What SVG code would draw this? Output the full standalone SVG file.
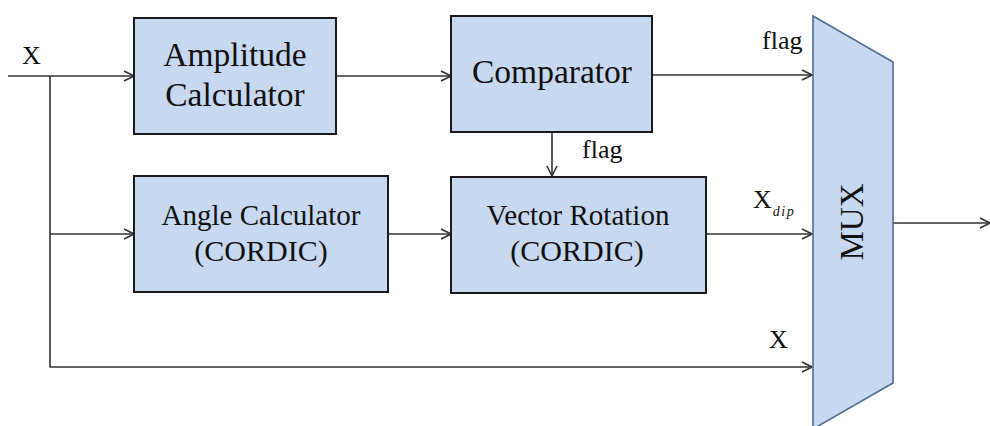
<svg xmlns="http://www.w3.org/2000/svg" width="990" height="426" viewBox="0 0 990 426" font-family="'Liberation Serif', 'Times New Roman', serif">
  <style>
    .box { fill: #c6d9f1; stroke: #1a1a1a; stroke-width: 2; }
    .mux { fill: #c6d9f1; stroke: #4f6d94; stroke-width: 1.6; }
    .wire { fill: none; stroke: #333333; stroke-width: 1.6; }
    text { font-family: 'Liberation Serif', 'Times New Roman', serif; fill: #111111; }
    .lbl { text-anchor: middle; }
    .big { font-size: 33.5px; }
    .mid { font-size: 29px; }
    .par { font-size: 30px; }
    .sig { font-size: 26px; }
  </style>
  <defs>
    <marker id="arrow" viewBox="0 0 12 12" refX="11" refY="6" markerWidth="12" markerHeight="12" markerUnits="userSpaceOnUse" orient="auto">
      <path d="M1,1 L11,6 L1,11" fill="none" stroke="#333333" stroke-width="1.6"/>
    </marker>
  </defs>

  <!-- connectors -->
  <g id="connectors">
    <line class="wire" x1="8" y1="76" x2="134" y2="76" marker-end="url(#arrow)"/>
    <polyline class="wire" points="50,76 50,367 812,367" marker-end="url(#arrow)"/>
    <line class="wire" x1="50" y1="234" x2="134" y2="234" marker-end="url(#arrow)"/>
    <line class="wire" x1="336" y1="76" x2="451" y2="76" marker-end="url(#arrow)"/>
    <line class="wire" x1="652" y1="75" x2="812" y2="75" marker-end="url(#arrow)"/>
    <line class="wire" x1="552" y1="132" x2="552" y2="176" marker-end="url(#arrow)"/>
    <line class="wire" x1="388" y1="234" x2="451" y2="234" marker-end="url(#arrow)"/>
    <line class="wire" x1="706" y1="234" x2="812" y2="234" marker-end="url(#arrow)"/>
    <line class="wire" x1="893" y1="223" x2="990" y2="223" marker-end="url(#arrow)"/>
  </g>

  <!-- signal labels -->
  <g id="signal-labels">
    <text class="sig" x="22" y="64">X</text>
    <text class="sig" x="762" y="49">flag</text>
    <text class="sig" x="582" y="158">flag</text>
    <text class="sig" x="753" y="208">X<tspan font-size="14" font-style="italic" letter-spacing="1.5" dx="1" dy="8">dip</tspan></text>
    <text class="sig" x="769" y="348">X</text>
  </g>

  <g id="amplitude-calculator">
    <rect class="box" x="134" y="18" width="202" height="116"/>
    <text class="lbl big" x="235" y="66">Amplitude</text>
    <text class="lbl big" x="235" y="106">Calculator</text>
  </g>

  <g id="comparator">
    <rect class="box" x="451" y="16" width="201" height="116"/>
    <text class="lbl big" x="552" y="83">Comparator</text>
  </g>

  <g id="angle-calculator">
    <rect class="box" x="134" y="176" width="254" height="116"/>
    <text class="lbl mid" x="261" y="225">Angle Calculator</text>
    <text class="lbl par" x="261" y="261">(CORDIC)</text>
  </g>

  <g id="vector-rotation">
    <rect class="box" x="451" y="177" width="255" height="116"/>
    <text class="lbl mid" x="578" y="225">Vector Rotation</text>
    <text class="lbl par" x="577" y="261">(CORDIC)</text>
  </g>

  <g id="mux">
    <polygon class="mux" points="813,16 893,62 893,383 813,429"/>
    <text font-size="33" text-anchor="middle" transform="translate(863,222) rotate(-90)">MUX</text>
  </g>
</svg>
